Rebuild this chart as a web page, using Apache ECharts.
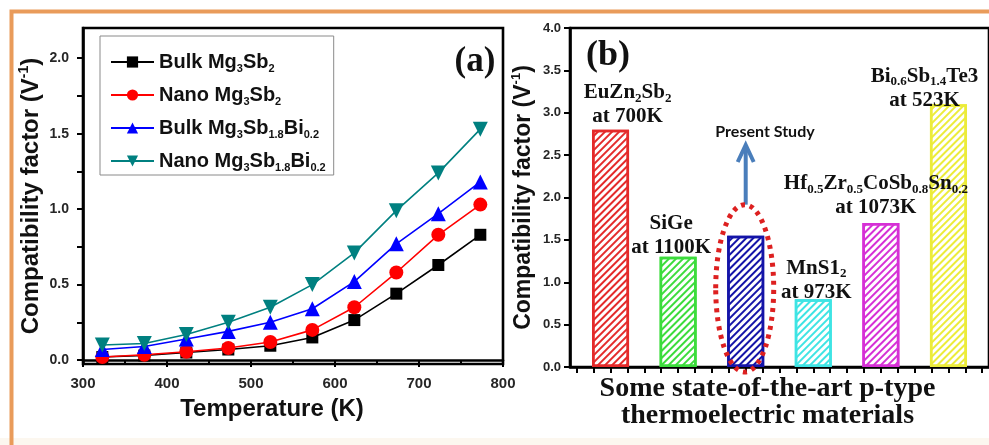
<!DOCTYPE html>
<html>
<head>
<meta charset="utf-8">
<script src="https://cdn.jsdelivr.net/npm/echarts@6/dist/echarts.min.js"></script>
<style>
  html, body { margin: 0; padding: 0; background: #fff; }
  #chart { width: 989px; height: 445px; }
</style>
</head>
<body>
<div id="chart"></div>
<script>
// ---- Panel (a): compatibility factor vs temperature ----
const temperatures = [323, 373, 423, 473, 523, 573, 623, 673, 723, 773];
const bulkMg3Sb2   = [0.02, 0.03, 0.05, 0.07, 0.095, 0.15, 0.265, 0.44, 0.63, 0.83];
const nanoMg3Sb2   = [0.02, 0.035, 0.055, 0.08, 0.12, 0.20, 0.35, 0.58, 0.83, 1.03];
const bulkMg3SbBi  = [0.07, 0.09, 0.14, 0.19, 0.25, 0.34, 0.52, 0.77, 0.97, 1.18];
const nanoMg3SbBi  = [0.10, 0.11, 0.17, 0.25, 0.35, 0.50, 0.71, 0.99, 1.24, 1.53];
const seriesNamesA = ['Bulk Mg_{3}Sb_{2}', 'Nano Mg_{3}Sb_{2}',
                      'Bulk Mg_{3}Sb_{1.8}Bi_{0.2}', 'Nano Mg_{3}Sb_{1.8}Bi_{0.2}'];
const xTicksA = [300, 400, 500, 600, 700, 800];
const yTicksA = [0.0, 0.5, 1.0, 1.5, 2.0];

// ---- Panel (b): state-of-the-art p-type materials ----
const materials = ['EuZn_{2}Sb_{2}', 'SiGe', 'Present Study', 'MnS1_{2}',
                   'Hf_{0.5}Zr_{0.5}CoSb_{0.8}Sn_{0.2}', 'Bi_{0.6}Sb_{1.4}Te3'];
const materialTemps = ['700K', '1100K', '', '973K', '1073K', '523K'];
const factorsB = [2.8, 1.3, 1.55, 0.8, 1.7, 3.1];
const yTicksB = [0.0, 0.5, 1.0, 1.5, 2.0, 2.5, 3.0, 3.5, 4.0];

// styling
const lineColors = ['#000000', '#ff0000', '#0000ff', '#008080'];
const lineSymbols = ['rect', 'circle', 'triangle', 'triangle'];
const symbolSizes = [12, 14, 15, 15];
const symbolRotations = [0, 0, 0, 180];
const barColors = ['#e42a2a', '#3cdc3c', '#1414a8', '#3ee4e4', '#d630d6', '#ecec3a'];
const barLabelOffsets = [[17, -1], [-7, 3], [0, 0], [3, 5], [-5, -3], [-24, 8]];

// "_{x}" -> subscript token, "^{x}" -> superscript token
function toRich(s) {
  return s.replace(/_\{([^}]*)\}/g, '{s|$1}').replace(/\^\{([^}]*)\}/g, '{p|$1}');
}

const sans = 'Liberation Sans, Arial, sans-serif';
const serif = 'Liberation Serif, Times New Roman, serif';

const chart = echarts.init(document.getElementById('chart'), null, { renderer: 'canvas' });

const lineSeries = [bulkMg3Sb2, nanoMg3Sb2, bulkMg3SbBi, nanoMg3SbBi].map((vals, i) => ({
  type: 'line',
  name: seriesNamesA[i],
  xAxisIndex: 0, yAxisIndex: 0,
  data: temperatures.map((t, k) => [t, vals[k]]),
  symbol: lineSymbols[i],
  symbolSize: symbolSizes[i],
  symbolRotate: symbolRotations[i],
  lineStyle: { color: lineColors[i], width: 1.6 },
  itemStyle: { color: lineColors[i] },
  z: 3 + i
}));

// bar positions on the material axis: 1, 2, 3, ...
const barData = factorsB.map((v, i) => {
  const hasLabel = materialTemps[i] !== '';
  return {
    value: [i + 1, v],
    itemStyle: {
      color: '#ffffff',
      borderColor: barColors[i],
      borderWidth: 2.5,
      decal: {
        symbol: 'rect',
        symbolSize: 1,
        color: barColors[i],
        dashArrayX: [1, 0],
        dashArrayY: [1.7, 2.2],
        rotation: -Math.PI / 4
      }
    },
    label: {
      show: hasLabel,
      position: 'top',
      distance: 0,
      offset: barLabelOffsets[i],
      formatter: toRich(materials[i]) + '\nat ' + materialTemps[i]
    }
  };
});

const bTickValues = [];
for (let v = 0.5; v <= 6.5 + 1e-9; v += 0.25) bTickValues.push(+v.toFixed(2));
const aMinorTicks = [];
for (let v = 0; v <= 2.0 + 1e-9; v += 0.25) aMinorTicks.push(+v.toFixed(2));

const axisLineStyle = { color: '#000', width: 2.6 };
const tickLabelStyle = { fontFamily: sans, fontWeight: 'bold', color: '#262626' };

chart.setOption({
  animation: false,
  backgroundColor: '#ffffff',
  grid: [
    { left: 83, top: 28, width: 420, height: 336, show: true, borderColor: '#000', borderWidth: 2.6 },
    { left: 570, top: 28, right: -7, height: 339, show: true, borderColor: '#000', borderWidth: 2.6 }
  ],
  legend: {
    data: seriesNamesA,
    orient: 'vertical',
    left: 100, top: 36,
    padding: [14, 8, 2, 10],
    itemWidth: 43, itemHeight: 14,
    itemGap: 9,
    borderColor: '#8a8a8a', borderWidth: 1,
    formatter: name => toRich(name),
    textStyle: {
      fontFamily: sans, fontWeight: 'bold', fontSize: 20, color: '#111', lineHeight: 24,
      rich: {
        s: { fontFamily: sans, fontWeight: 'bold', fontSize: 11, lineHeight: 11, verticalAlign: 'bottom', color: '#111' }
      }
    }
  },
  xAxis: [
    {
      type: 'value', gridIndex: 0, min: 300, max: 800, interval: 100,
      axisLine: { lineStyle: axisLineStyle },
      axisTick: { length: 7, lineStyle: { width: 2, color: '#000' } },
      minorTick: { show: true, splitNumber: 2, length: 4, lineStyle: { width: 2, color: '#000' } },
      splitLine: { show: false },
      axisLabel: Object.assign({ fontSize: 15, margin: 12, customValues: xTicksA }, tickLabelStyle),
      name: 'Temperature (K)', nameLocation: 'middle', nameGap: 33,
      nameTextStyle: { fontFamily: sans, fontWeight: 'bold', fontSize: 24, color: '#111', padding: [0, 42, 0, 0] }
    },
    {
      type: 'value', gridIndex: 1, min: 0.4, max: 6.6,
      axisLine: { lineStyle: axisLineStyle },
      axisTick: { length: 6, customValues: bTickValues, lineStyle: { width: 2, color: '#000' } },
      splitLine: { show: false },
      axisLabel: { show: false },
      name: 'Some state-of-the-art p-type\nthermoelectric materials',
      nameLocation: 'middle', nameGap: 8,
      nameTextStyle: { fontFamily: serif, fontWeight: 'bold', fontSize: 28, lineHeight: 27, color: '#111',
                       verticalAlign: 'top', padding: [0, 24, 0, 0] }
    }
  ],
  yAxis: [
    {
      type: 'value', gridIndex: 0, min: -0.026, max: 2.2,
      axisLine: { lineStyle: axisLineStyle },
      axisTick: { length: 6, customValues: aMinorTicks, lineStyle: { width: 2, color: '#000' } },
      splitLine: { show: false },
      axisLabel: Object.assign({ fontSize: 14, margin: 14, customValues: yTicksA, formatter: v => v.toFixed(1) }, tickLabelStyle),
      name: toRich('Compatibility factor (V^{-1})'),
      nameLocation: 'middle', nameGap: 34,
      nameTextStyle: {
        fontFamily: sans, fontWeight: 'bold', fontSize: 24, color: '#111', lineHeight: 28,
        rich: { p: { fontFamily: sans, fontWeight: 'bold', fontSize: 14, lineHeight: 14, verticalAlign: 'top', color: '#111' } }
      }
    },
    {
      type: 'value', gridIndex: 1, min: 0, max: 4.0, interval: 0.5,
      axisLine: { lineStyle: axisLineStyle },
      axisTick: { length: 6, lineStyle: { width: 2, color: '#000' } },
      splitLine: { show: false },
      axisLabel: Object.assign({ fontSize: 13, margin: 9, customValues: yTicksB, formatter: v => v.toFixed(1) }, tickLabelStyle),
      name: toRich('Compatibility factor (V^{-1})'),
      nameLocation: 'middle', nameGap: 33,
      nameTextStyle: {
        fontFamily: sans, fontWeight: 'bold', fontSize: 23, color: '#111', lineHeight: 27,
        rich: { p: { fontFamily: sans, fontWeight: 'bold', fontSize: 13, lineHeight: 13, verticalAlign: 'top', color: '#111' } }
      }
    }
  ],
  series: lineSeries.concat([{
    type: 'bar',
    name: 'materials',
    xAxisIndex: 1, yAxisIndex: 1,
    barWidth: 37,
    data: barData,
    label: {
      fontFamily: serif, fontWeight: 'bold', fontSize: 21, lineHeight: 24, color: '#111', align: 'center',
      rich: { s: { fontFamily: serif, fontWeight: 'bold', fontSize: 13, lineHeight: 13, verticalAlign: 'bottom', color: '#111' } }
    },
    z: 2
  }])
});

// annotations: panel tags, "Present Study" arrow and the dotted ring round it
const studyIdx = 2;
const studyPt = chart.convertToPixel({ xAxisIndex: 1, yAxisIndex: 1 }, [studyIdx + 1, factorsB[studyIdx]]);
const basePt = chart.convertToPixel({ xAxisIndex: 1, yAxisIndex: 1 }, [studyIdx + 1, 0]);
const cx = studyPt[0] - 1;
const ringTop = studyPt[1] - 31;
const ringBottom = basePt[1] + 5;

chart.setOption({
  graphic: [
    { type: 'rect', silent: true, z: 0, shape: { x: 0, y: 438, width: 989, height: 7 }, style: { fill: '#fcf7ef' } },
    { type: 'rect', silent: true, z: 100, shape: { x: 11.5, y: 11.5, width: 1000, height: 500 },
      style: { fill: null, stroke: '#e99b5a', lineWidth: 4 } },
    { type: 'text', z: 100, x: 475, y: 62, style: { text: '(a)', font: 'bold 35px ' + serif, fill: '#111', align: 'center', verticalAlign: 'middle' } },
    { type: 'text', z: 100, x: 608, y: 56, style: { text: '(b)', font: 'bold 36px ' + serif, fill: '#111', align: 'center', verticalAlign: 'middle' } },
    { type: 'text', z: 100, x: 765, y: 132, style: { text: materials[studyIdx], font: 'bold 16px Lato, Open Sans, sans-serif', fill: '#111', align: 'center', verticalAlign: 'middle' } },
    { type: 'line', z: 100, shape: { x1: cx + 1, y1: ringTop, x2: cx + 1, y2: 147 }, style: { stroke: '#4a7ebb', lineWidth: 4 } },
    { type: 'polyline', z: 100, shape: { points: [[cx - 7, 162], [cx + 1, 145], [cx + 9, 162]] },
      style: { stroke: '#4a7ebb', lineWidth: 4, fill: null, lineJoin: 'miter' } },
    { type: 'ellipse', z: 100,
      shape: { cx: cx, cy: (ringTop + ringBottom) / 2, rx: 29, ry: (ringBottom - ringTop) / 2 },
      style: { fill: null, stroke: '#dd2020', lineWidth: 5, lineDash: [4, 5] } }
  ]
});
</script>
</body>
</html>
